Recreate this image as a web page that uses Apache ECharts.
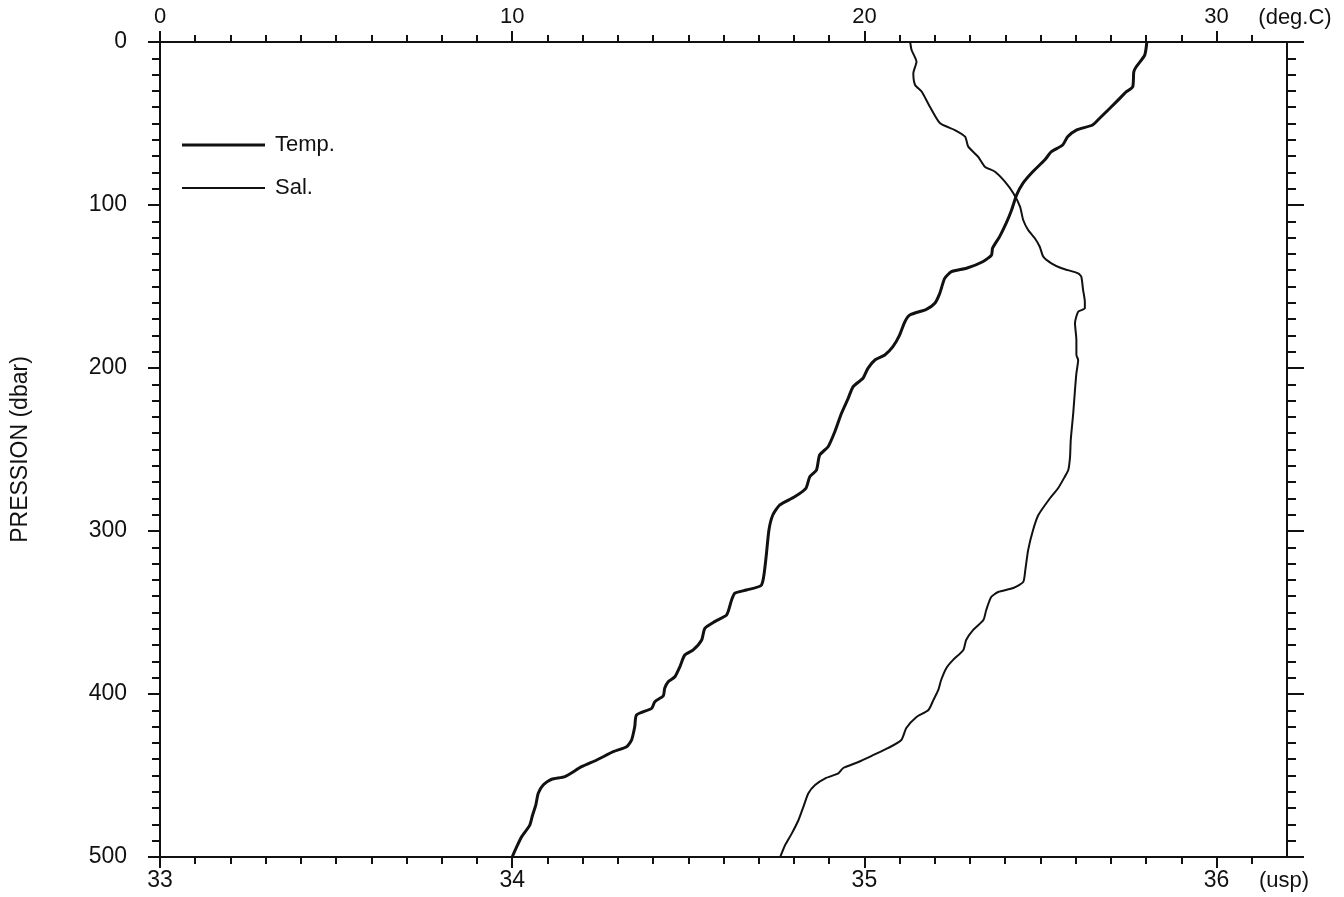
<!DOCTYPE html>
<html>
<head>
<meta charset="utf-8">
<title>Profil T/S</title>
<script src="https://cdn.jsdelivr.net/npm/echarts@6/dist/echarts.min.js"></script>
<style>
  html, body { margin: 0; padding: 0; background: #fff; }
  #chart { width: 1344px; height: 897px; }
</style>
</head>
<body>
<div id="chart"></div>
<script>
// Temperature profile (deg.C) against pressure (dbar)
const tempPressure = [0, 8, 15.2, 18.2, 27.4, 30.5, 36.6, 46.8, 50.9, 54.0, 58.1, 63.2, 67.3, 72.4, 79.6,
  86.7, 93.9, 103.1, 111.0, 119.4, 126.4, 130.7, 134.8, 138.8, 140.9, 145.0, 154.2, 160.3, 164.0, 167.5,
  171.6, 179.8, 186.9, 192.0, 195.1, 200.2, 206.3, 211.5, 218.6, 227.8, 239.1, 248.3, 253.4, 262.6, 266.7,
  273.8, 279.0, 284.0, 290.2, 299.4, 317.8, 333.1, 336.2, 338.2, 342.3, 351.5, 355.6, 359.7, 366.9, 373.0,
  376.1, 383.3, 389.4, 392.5, 396.5, 401.2, 404.7, 408.8, 412.9, 420.1, 428.2, 432.3, 435.4, 440.5, 444.6,
  450.7, 452.3, 455.8, 460.9, 468.1, 474.2, 480.4, 487.5, 493.7, 500];
const tempValues = [28.02, 27.96, 27.72, 27.65, 27.62, 27.44, 27.16, 26.68, 26.48, 26.02, 25.77, 25.63, 25.31, 25.12, 24.78,
  24.50, 24.32, 24.18, 24.03, 23.84, 23.64, 23.61, 23.36, 22.90, 22.47, 22.28, 22.14, 22.00, 21.76, 21.29,
  21.15, 21.00, 20.81, 20.58, 20.30, 20.10, 19.96, 19.68, 19.54, 19.35, 19.16, 18.97, 18.73, 18.64, 18.45,
  18.34, 18.02, 17.60, 17.40, 17.29, 17.20, 17.08, 16.65, 16.32, 16.23, 16.09, 15.75, 15.47, 15.38, 15.14,
  14.90, 14.76, 14.62, 14.43, 14.33, 14.29, 14.05, 13.96, 13.53, 13.48, 13.39, 13.25, 12.87, 12.40, 11.97,
  11.50, 11.12, 10.88, 10.74, 10.67, 10.58, 10.50, 10.27, 10.13, 10.00];

// Salinity profile (usp) against pressure (dbar)
const salPressure = [0, 4.9, 12.1, 19.2, 26.4, 30.5, 39.7, 49.9, 54.0, 58.1, 64.2, 70.4, 76.5, 79.6, 85.7,
  92.8, 101.0, 109.2, 115.3, 120.4, 125.6, 131.7, 135.8, 138.8, 141.9, 144.0, 152.1, 159.3, 163.4, 165.5,
  172.6, 182.8, 192.0, 195.1, 203.3, 213.5, 227.8, 244.2, 254.4, 262.6, 266.7, 273.8, 279.9, 290.2, 299.4,
  311.7, 323.9, 331.3, 335.0, 337.4, 340.5, 348.5, 354.6, 360.7, 366.9, 373.0, 379.1, 384.0, 391.4, 397.5,
  403.7, 409.8, 414.1, 420.9, 428.2, 433.1, 437.4, 441.7, 445.4, 448.7, 451.7, 455.8, 460.9, 469.1, 477.3,
  485.5, 492.6, 500];
const salValues = [35.130, 35.134, 35.148, 35.139, 35.144, 35.163, 35.186, 35.215, 35.257, 35.286, 35.295, 35.323, 35.342, 35.371, 35.399,
  35.423, 35.442, 35.451, 35.465, 35.484, 35.498, 35.508, 35.531, 35.560, 35.607, 35.616, 35.621, 35.626, 35.626, 35.607,
  35.598, 35.602, 35.602, 35.607, 35.602, 35.598, 35.593, 35.586, 35.584, 35.579, 35.569, 35.550, 35.527, 35.494, 35.479,
  35.465, 35.457, 35.451, 35.423, 35.380, 35.360, 35.346, 35.338, 35.309, 35.289, 35.281, 35.252, 35.233, 35.218, 35.210,
  35.196, 35.182, 35.148, 35.119, 35.105, 35.068, 35.026, 34.983, 34.940, 34.926, 34.889, 34.860, 34.841, 34.827, 34.813,
  34.794, 34.775, 34.761];

// Labelled ticks
const tempTicks = [0, 10, 20, 30];
const salTicks = [33, 34, 35, 36];

const INK = '#111';
const FONT = '"Liberation Sans", Arial, Helvetica, sans-serif';

function xAxisCommon(extra) {
  return Object.assign({
    type: 'value',
    splitLine: { show: false },
    minorSplitLine: { show: false },
    axisLine: { show: true, onZero: false, lineStyle: { color: INK, width: 2 } },
    minorTick: { show: true, splitNumber: 10, length: 7, lineStyle: { color: INK, width: 2 } }
  }, extra);
}

const chart = echarts.init(document.getElementById('chart'), null, { renderer: 'canvas' });

chart.setOption({
  animation: false,
  backgroundColor: '#fff',
  textStyle: { fontFamily: FONT, color: INK },
  grid: { left: 160, right: 57, top: 42, bottom: 40, containLabel: false, outerBoundsMode: 'none' },
  legend: {
    orient: 'vertical',
    left: 182,
    top: 134,
    padding: 0,
    itemWidth: 83,
    itemHeight: 20,
    itemGap: 21,
    selectedMode: false,
    textStyle: { fontFamily: FONT, fontSize: 22, color: INK, padding: [0, 0, 0, 5] },
    data: [
      { name: 'Temp.', icon: 'path://M0,0 L83,0 L83,3 L0,3 Z' },
      { name: 'Sal.', icon: 'path://M0,0 L83,0 L83,2 L0,2 Z' }
    ]
  },
  xAxis: [
    xAxisCommon({
      position: 'top',
      min: 0, max: 32, interval: 10,
      name: '(deg.C)',
      nameLocation: 'end',
      nameGap: 8,
      nameTextStyle: { fontFamily: FONT, fontSize: 22, color: INK, align: 'center', verticalAlign: 'bottom', padding: [0, 0, 13, 0] },
      axisTick: { show: true, length: 11, customValues: tempTicks, lineStyle: { color: INK, width: 2 } },
      axisLabel: { customValues: tempTicks, fontFamily: FONT, fontSize: 22, color: INK, margin: 14 }
    }),
    xAxisCommon({
      position: 'bottom',
      min: 33, max: 36.2, interval: 1,
      name: '(usp)',
      nameLocation: 'end',
      nameGap: -3,
      nameTextStyle: { fontFamily: FONT, fontSize: 22, color: INK, align: 'center', verticalAlign: 'top', padding: [13, 0, 0, 0] },
      axisTick: { show: true, length: 11, customValues: salTicks, lineStyle: { color: INK, width: 2 } },
      axisLabel: { customValues: salTicks, fontFamily: FONT, fontSize: 23, color: INK, margin: 12 }
    })
  ],
  yAxis: [
    {
      type: 'value',
      position: 'left',
      inverse: true,
      min: 0, max: 500, interval: 100,
      name: 'PRESSION (dbar)',
      nameLocation: 'middle',
      nameGap: 128,
      nameRotate: 90,
      nameTextStyle: { fontFamily: FONT, fontSize: 23, color: INK },
      splitLine: { show: false },
      axisLine: { show: true, onZero: false, lineStyle: { color: INK, width: 2 } },
      axisTick: { show: true, length: 12, lineStyle: { color: INK, width: 2 } },
      minorTick: { show: true, splitNumber: 10, length: 8, lineStyle: { color: INK, width: 2 } },
      axisLabel: { fontFamily: FONT, fontSize: 23, color: INK, margin: 33 }
    },
    {
      type: 'value',
      position: 'right',
      inverse: true,
      min: 0, max: 500, interval: 100,
      splitLine: { show: false },
      axisLine: { show: true, onZero: false, lineStyle: { color: INK, width: 2 } },
      axisTick: { show: true, length: 17, lineStyle: { color: INK, width: 2 } },
      minorTick: { show: true, splitNumber: 10, length: 9, lineStyle: { color: INK, width: 2 } },
      axisLabel: { show: false }
    }
  ],
  series: [
    {
      name: 'Temp.',
      type: 'line',
      xAxisIndex: 0,
      yAxisIndex: 0,
      symbol: 'none',
      smooth: 0.2,
      lineStyle: { color: INK, width: 3 },
      itemStyle: { color: INK },
      data: tempPressure.map((p, i) => [tempValues[i], p])
    },
    {
      name: 'Sal.',
      type: 'line',
      xAxisIndex: 1,
      yAxisIndex: 0,
      symbol: 'none',
      smooth: 0.2,
      lineStyle: { color: INK, width: 2 },
      itemStyle: { color: INK },
      data: salPressure.map((p, i) => [salValues[i], p])
    }
  ]
});
</script>
</body>
</html>
